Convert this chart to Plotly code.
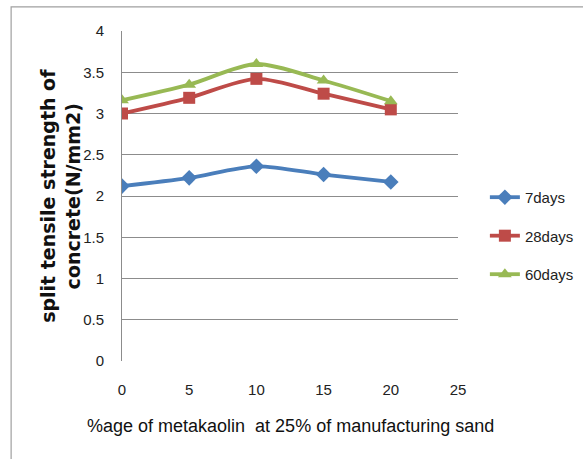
import plotly.graph_objects as go

# Metakaolin replacement (%) at 25% manufactured sand
metakaolin_pct = [0, 5, 10, 15, 20]

# Split tensile strength (N/mm2) by curing age
strength_7days = [2.12, 2.22, 2.36, 2.26, 2.17]
strength_28days = [3.00, 3.19, 3.42, 3.24, 3.05]
strength_60days = [3.16, 3.35, 3.60, 3.40, 3.15]

series_names = ["7days", "28days", "60days"]
series_values = [strength_7days, strength_28days, strength_60days]
series_colors = ["#4A7EBB", "#BE4B48", "#98B954"]
series_symbols = ["diamond", "square", "triangle-up"]

x_ticks = [0, 5, 10, 15, 20, 25]
y_ticks = [0, 0.5, 1, 1.5, 2, 2.5, 3, 3.5, 4]

sans = "Liberation Sans, Arial, sans-serif"

fig = go.Figure()
for i, (name, vals, col, sym) in enumerate(zip(series_names, series_values,
                                               series_colors, series_symbols)):
    fig.add_trace(go.Scatter(
        x=metakaolin_pct, y=vals, name=name, mode="lines+markers",
        line=dict(color=col, width=3.8, shape="spline", smoothing=0.8),
        marker=dict(symbol=sym, size=12, color=col),
        legendgroup=f"g{i}",
    ))

fig.update_layout(
    width=583, height=459,
    margin=dict(l=122, r=125, t=31, b=98, autoexpand=False),
    paper_bgcolor="white", plot_bgcolor="white",
    font=dict(family=sans, size=14, color="#222222"),
    showlegend=True,
    legend=dict(x=1.08, y=0.379, xanchor="left", yanchor="middle",
                font=dict(family=sans, size=15, color="#222222"),
                tracegroupgap=16, itemwidth=30,
                bgcolor="rgba(0,0,0,0)"),
    xaxis=dict(range=[0, 25], tickvals=x_ticks, showgrid=False,
               zeroline=False, showline=False, ticks="",
               ticklabelstandoff=18,
               tickfont=dict(family=sans, size=15, color="#222222")),
    yaxis=dict(range=[0, 4], tickvals=y_ticks, showgrid=True,
               gridcolor="#8C8C8C", gridwidth=1, zeroline=False,
               showline=True, linecolor="#8C8C8C", linewidth=1, ticks="",
               ticklabelstandoff=14,
               tickfont=dict(family=sans, size=15, color="#222222")),
    annotations=[
        dict(text="%age of metakaolin  at 25% of manufacturing sand",
             xref="paper", yref="paper", x=0.5, y=-0.197,
             xanchor="center", yanchor="middle", showarrow=False,
             font=dict(family=sans, size=18, color="#111111")),
        dict(text="split tensile strength of<br>concrete(N/mm2)",
             xref="paper", yref="paper", x=-0.185, y=0.5,
             xanchor="center", yanchor="middle", showarrow=False,
             textangle=-90,
             font=dict(family="DejaVu Sans", size=19, color="#111111",
                       weight="bold")),
    ],
    shapes=[
        dict(type="rect", xref="paper", yref="paper",
             x0=-0.330, x1=1.6, y0=-0.6, y1=1.073,
             line=dict(color="#A0A0A0", width=1.2), layer="below"),
    ],
)

fig.write_html("out.html")
